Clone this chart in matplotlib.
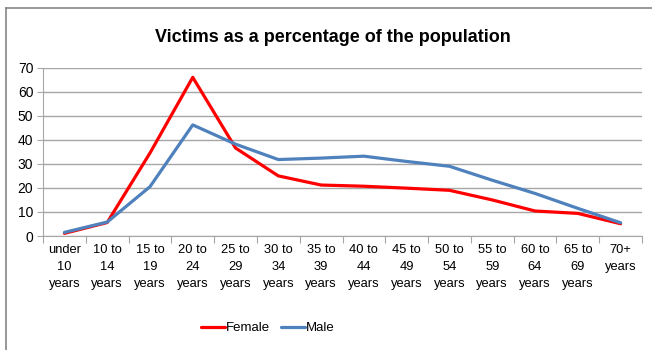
import matplotlib.pyplot as plt
from matplotlib.lines import Line2D

plt.rcParams['font.family'] = ['Liberation Sans', 'DejaVu Sans']

# data
age_groups = ['under\n10\nyears', '10 to\n14\nyears', '15 to\n19\nyears', '20 to\n24\nyears',
              '25 to\n29\nyears', '30 to\n34\nyears', '35 to\n39\nyears', '40 to\n44\nyears',
              '45 to\n49\nyears', '50 to\n54\nyears', '55 to\n59\nyears', '60 to\n64\nyears',
              '65 to\n69\nyears', '70+\nyears']
female = [1.1, 5.6, 34.5, 66.0, 36.6, 25.0, 21.2, 20.7, 19.9, 19.0, 15.0, 10.4, 9.4, 5.1]
male = [1.5, 5.8, 20.5, 46.2, 38.2, 31.8, 32.4, 33.2, 31.0, 29.0, 23.2, 17.7, 11.5, 5.5]

fig = plt.figure(figsize=(6.52, 3.5), dpi=100)
ax = fig.add_axes([43 / 652, 1 - 236 / 350, (642 - 43) / 652, (236 - 67.7) / 350])

x = range(len(age_groups))
ax.plot(x, female, color='#FF0000', lw=2.3, label='Female', solid_capstyle='round')
ax.plot(x, male, color='#4F81BD', lw=2.3, label='Male', solid_capstyle='round')

ax.set_xlim(-0.5, len(age_groups) - 0.5)
ax.set_ylim(0, 70)
ax.set_yticks(range(0, 71, 10))
ax.yaxis.grid(True, color='#A6A6A6', lw=1)
ax.set_axisbelow(True)
for s in ['top', 'right']:
    ax.spines[s].set_visible(False)
ax.spines['left'].set_color('#A6A6A6')
ax.spines['bottom'].set_color('#A6A6A6')

# tick marks at category boundaries, labels at centers
ax.set_xticks([i - 0.5 for i in range(len(age_groups) + 1)])
ax.set_xticklabels([])
ax.set_xticks(list(x), minor=True)
ax.set_xticklabels(age_groups, minor=True, fontsize=9.3, linespacing=1.55)
ax.tick_params(axis='x', which='major', length=5, color='#A6A6A6')
ax.tick_params(axis='x', which='minor', length=0, pad=6)
ax.tick_params(axis='y', length=4, color='#A6A6A6', labelsize=10, pad=3)

fig.text(0.51, 1 - 37 / 350, 'Victims as a percentage of the population',
         ha='center', va='center', fontsize=13, fontweight='bold')

ax.legend(loc='center', bbox_to_anchor=(268 / 652, 1 - 328 / 350), bbox_transform=fig.transFigure,
          ncol=2, frameon=False, fontsize=9.5, handlelength=1.8, handletextpad=0.1,
          columnspacing=0.8)

# chart border (top and left visible only)
fig.add_artist(Line2D([6 / 652, 6 / 652], [0, 1 - 8 / 350], transform=fig.transFigure,
                      color='#868686', lw=1.2))
fig.add_artist(Line2D([6 / 652, 1], [1 - 8 / 350, 1 - 8 / 350], transform=fig.transFigure,
                      color='#868686', lw=1.2))

fig.savefig('out.png', dpi=100)
